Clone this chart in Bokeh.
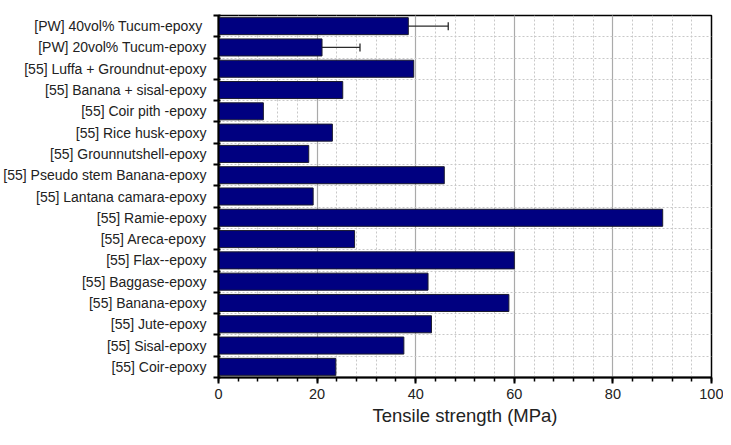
from bokeh.plotting import figure
from bokeh.models import Range1d, FixedTicker, ColumnDataSource, Whisker, TeeHead, SingleIntervalTicker
from bokeh.embed import file_html
from bokeh.resources import INLINE

# Data (top to bottom)
labels = [
    "[PW]  40vol% Tucum-epoxy",
    "[PW] 20vol% Tucum-epoxy",
    "[55] Luffa + Groundnut-epoxy",
    "[55] Banana + sisal-epoxy",
    "[55] Coir pith -epoxy",
    "[55] Rice husk-epoxy",
    "[55] Grounnutshell-epoxy",
    "[55] Pseudo stem Banana-epoxy",
    "[55] Lantana camara-epoxy",
    "[55] Ramie-epoxy",
    "[55] Areca-epoxy",
    "[55] Flax--epoxy",
    "[55] Baggase-epoxy",
    "[55] Banana-epoxy",
    "[55] Jute-epoxy",
    "[55] Sisal-epoxy",
    "[55] Coir-epoxy",
]
strength = [38.5, 21.0, 39.6, 25.2, 9.1, 23.1, 18.3, 45.8, 19.2, 90.1, 27.6, 60.0, 42.5, 58.9, 43.2, 37.6, 23.8]
err_low = [30.2, 13.3]
err_high = [46.6, 28.7]

n = len(labels)
centers = [n - i - 0.5 for i in range(n)]
bounds = list(range(0, n + 1))

p = figure(width=723, height=437, output_backend="svg", toolbar_location=None,
           x_range=Range1d(0, 100), y_range=Range1d(0, n),
           min_border_left=218, min_border_right=12, min_border_top=15, min_border_bottom=60)
p.background_fill_color = "white"
p.border_fill_color = "white"
p.outline_line_color = "black"
p.outline_line_width = 1.5

src = ColumnDataSource(dict(y=centers, x=strength))
p.hbar(y="y", right="x", left=0, height=0.8, source=src,
       fill_color="#000080", line_color="#1a1a2e", line_width=1)

wsrc = ColumnDataSource(dict(base=centers[:2], lower=err_low, upper=err_high))
w = Whisker(base="base", lower="lower", upper="upper", dimension="width", source=wsrc,
            line_color="#2a2a2a", line_width=1.3)
w.upper_head = TeeHead(size=8, line_color="#2a2a2a", line_width=1.3)
w.lower_head = TeeHead(size=8, line_color="#2a2a2a", line_width=1.3)
p.add_layout(w)

# x axis
xa = p.xaxis[0]
xa.ticker = SingleIntervalTicker(interval=20, num_minor_ticks=5)
xa.axis_label = "Tensile strength (MPa)"
xa.axis_label_text_font = "Liberation Sans"
xa.axis_label_text_font_size = "18.5px"
xa.axis_label_text_font_style = "normal"
xa.axis_label_text_color = "#222222"
xa.axis_label_standoff = 3
xa.major_label_text_font = "Liberation Sans"
xa.major_label_text_font_size = "14.5px"
xa.major_label_text_color = "#222222"
xa.axis_line_width = 2
xa.axis_line_color = "black"
xa.major_tick_out = 6
xa.major_tick_in = 0
xa.minor_tick_out = 4
xa.minor_tick_in = 0
xa.major_tick_line_width = 2
xa.minor_tick_line_width = 1.5

# y axis
ya = p.yaxis[0]
ya.ticker = FixedTicker(ticks=centers, minor_ticks=bounds)
ya.major_label_overrides = {c: l for c, l in zip(centers, labels)}
ya.major_label_text_font = "Liberation Sans"
ya.major_label_text_font_size = "14px"
ya.major_label_text_color = "#222222"
ya.major_tick_out = 0
ya.major_tick_in = 0
ya.minor_tick_out = 5
ya.minor_tick_in = 2
ya.minor_tick_line_width = 2
ya.axis_line_width = 2
ya.axis_line_color = "black"
ya.major_label_standoff = 7

# grids
p.xgrid.grid_line_color = "#aaaaaa"
p.xgrid.grid_line_width = 1.2
p.xgrid.minor_grid_line_color = "#c8c8c8"
p.xgrid.minor_grid_line_dash = "2 2"
p.xgrid.minor_grid_line_width = 1
p.ygrid.grid_line_color = None
p.ygrid.minor_grid_line_color = "#c8c8c8"
p.ygrid.minor_grid_line_dash = "2 2"
p.ygrid.minor_grid_line_width = 1

open("out.html", "w").write(file_html(p, INLINE))
